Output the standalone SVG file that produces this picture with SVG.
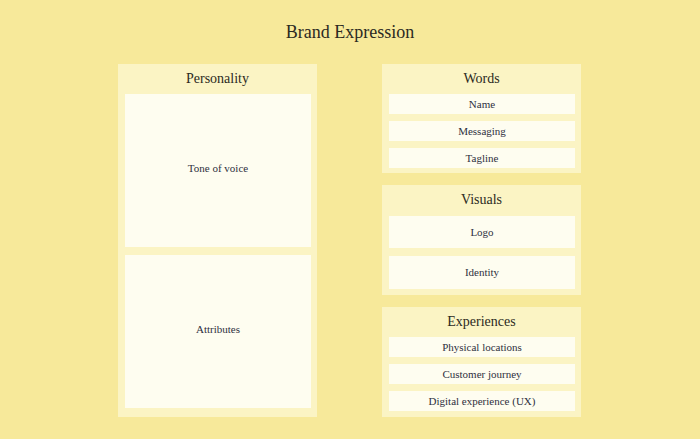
<svg xmlns="http://www.w3.org/2000/svg" width="700" height="439" viewBox="0 0 700 439">
<style>
.panel{fill:#FBF4C4}
.box{fill:#FEFDF0}
.title{font-family:"Liberation Serif","DejaVu Serif",serif;font-size:18px;fill:#2b2a22;text-anchor:middle}
.ptitle{font-family:"Liberation Serif","DejaVu Serif",serif;font-size:14px;fill:#2b2a22;text-anchor:middle}
.lbl{font-family:"Liberation Serif","DejaVu Serif",serif;font-size:11px;fill:#2e3040;text-anchor:middle}
</style>
<rect width="700" height="439" fill="#F7E99A"/>
<text class="title" x="350" y="38">Brand Expression</text>
<g id="personality">
<rect class="panel" x="118" y="64" width="199" height="353"/>
<text class="ptitle" x="217.5" y="83">Personality</text>
</g>
<g id="tone-of-voice">
<rect class="box" x="125" y="94" width="186" height="153"/>
<text class="lbl" x="218" y="172">Tone of voice</text>
</g>
<g id="attributes">
<rect class="box" x="125" y="255" width="186" height="153"/>
<text class="lbl" x="218" y="333">Attributes</text>
</g>
<g id="words">
<rect class="panel" x="382" y="64" width="199" height="109"/>
<text class="ptitle" x="481.5" y="83">Words</text>
</g>
<g id="name">
<rect class="box" x="389" y="94" width="186" height="20"/>
<text class="lbl" x="482" y="108">Name</text>
</g>
<g id="messaging">
<rect class="box" x="389" y="121" width="186" height="20"/>
<text class="lbl" x="482" y="135">Messaging</text>
</g>
<g id="tagline">
<rect class="box" x="389" y="148" width="186" height="20"/>
<text class="lbl" x="482" y="162">Tagline</text>
</g>
<g id="visuals">
<rect class="panel" x="382" y="185" width="199" height="110"/>
<text class="ptitle" x="481.5" y="204">Visuals</text>
</g>
<g id="logo">
<rect class="box" x="389" y="216" width="186" height="32"/>
<text class="lbl" x="482" y="236">Logo</text>
</g>
<g id="identity">
<rect class="box" x="389" y="256" width="186" height="33"/>
<text class="lbl" x="482" y="276">Identity</text>
</g>
<g id="experiences">
<rect class="panel" x="382" y="307" width="199" height="110"/>
<text class="ptitle" x="481.5" y="326">Experiences</text>
</g>
<g id="physical-locations">
<rect class="box" x="389" y="337" width="186" height="20"/>
<text class="lbl" x="482" y="351">Physical locations</text>
</g>
<g id="customer-journey">
<rect class="box" x="389" y="364" width="186" height="20"/>
<text class="lbl" x="482" y="378">Customer journey</text>
</g>
<g id="digital-experience">
<rect class="box" x="389" y="391" width="186" height="20"/>
<text class="lbl" x="482" y="405">Digital experience (UX)</text>
</g>
<g id="connectors"></g>
</svg>
